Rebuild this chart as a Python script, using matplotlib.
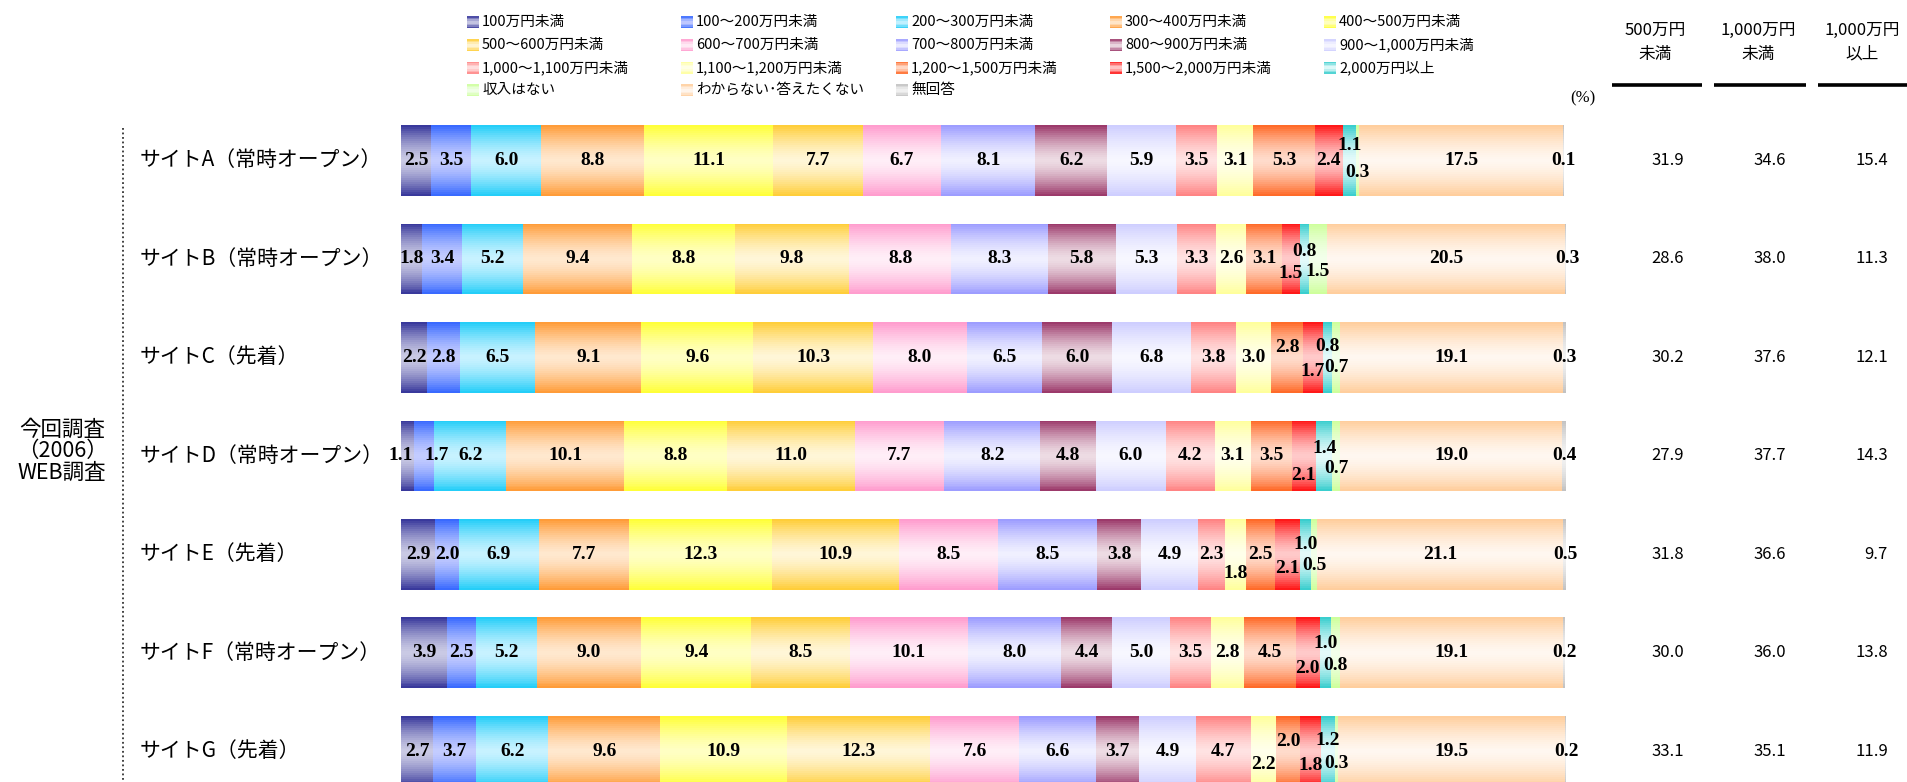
import numpy as np
import matplotlib
matplotlib.use("Agg")
import matplotlib.pyplot as plt
from matplotlib.colors import to_rgb
from matplotlib.patches import Rectangle
from matplotlib.transforms import blended_transform_factory

plt.rcParams['font.family'] = ['Noto Sans CJK JP', 'DejaVu Sans']

# ---------------- data ----------------
categories = ["100万円未満", "100～200万円未満", "200～300万円未満", "300～400万円未満", "400～500万円未満",
              "500～600万円未満", "600～700万円未満", "700～800万円未満", "800～900万円未満", "900～1,000万円未満",
              "1,000～1,100万円未満", "1,100～1,200万円未満", "1,200～1,500万円未満", "1,500～2,000万円未満", "2,000万円以上",
              "収入はない", "わからない･答えたくない", "無回答"]

sites = ["サイトA（常時オープン）", "サイトB（常時オープン）", "サイトC（先着）", "サイトD（常時オープン）",
         "サイトE（先着）", "サイトF（常時オープン）", "サイトG（先着）"]

site_A = [2.5, 3.5, 6.0, 8.8, 11.1, 7.7, 6.7, 8.1, 6.2, 5.9, 3.5, 3.1, 5.3, 2.4, 1.1, 0.3, 17.5, 0.1]
site_B = [1.8, 3.4, 5.2, 9.4, 8.8, 9.8, 8.8, 8.3, 5.8, 5.3, 3.3, 2.6, 3.1, 1.5, 0.8, 1.5, 20.5, 0.3]
site_C = [2.2, 2.8, 6.5, 9.1, 9.6, 10.3, 8.0, 6.5, 6.0, 6.8, 3.8, 3.0, 2.8, 1.7, 0.8, 0.7, 19.1, 0.3]
site_D = [1.1, 1.7, 6.2, 10.1, 8.8, 11.0, 7.7, 8.2, 4.8, 6.0, 4.2, 3.1, 3.5, 2.1, 1.4, 0.7, 19.0, 0.4]
site_E = [2.9, 2.0, 6.9, 7.7, 12.3, 10.9, 8.5, 8.5, 3.8, 4.9, 2.3, 1.8, 2.5, 2.1, 1.0, 0.5, 21.1, 0.5]
site_F = [3.9, 2.5, 5.2, 9.0, 9.4, 8.5, 10.1, 8.0, 4.4, 5.0, 3.5, 2.8, 4.5, 2.0, 1.0, 0.8, 19.1, 0.2]
site_G = [2.7, 3.7, 6.2, 9.6, 10.9, 12.3, 7.6, 6.6, 3.7, 4.9, 4.7, 2.2, 2.0, 1.8, 1.2, 0.3, 19.5, 0.2]

under_500 = [31.9, 28.6, 30.2, 27.9, 31.8, 30.0, 33.1]
under_1000 = [34.6, 38.0, 37.6, 37.7, 36.6, 36.0, 35.1]
over_1000 = [15.4, 11.3, 12.1, 14.3, 9.7, 13.8, 11.9]

summary_headers = [("500万円", "未満"), ("1,000万円", "未満"), ("1,000万円", "以上")]
group_label = ["今回調査", "（2006）", "WEB調査"]
unit_label = "(%)"

# ---------------- styles ----------------
edge_colors = ["#333399", "#3366FF", "#1ECCF8", "#FF9933", "#FFFF33", "#FFCC33", "#FF99CC", "#9999FF",
               "#993366", "#CCCCFF", "#FF8080", "#FFFF99", "#FF6622", "#FF1111", "#33CCCC", "#CCFF99",
               "#FFCC99", "#C0C0C0"]
center_colors = ["#CACAE4", "#C4CCFF", "#C8F2FF", "#FFE8CF", "#FFFFC4", "#FFF6D8", "#FFEEF7", "#F0F0FF",
                 "#EDDCE4", "#F7F7FF", "#FFE2E2", "#FFFFEA", "#FFDCCC", "#FFCACA", "#E4FAFA", "#F2FFEA",
                 "#FFF7F0", "#F2F2F2"]

# label nudges (row index, category index) -> (dx in %, dy in row units, + = down)
label_nudge = {
    (0, 14): (0.0, -0.15), (0, 15): (0.0, 0.12),
    (1, 13): (0.0, 0.15), (1, 14): (0.0, -0.08), (1, 15): (0.0, 0.13),
    (2, 12): (0.0, -0.10), (2, 13): (0.0, 0.14), (2, 14): (0.0, -0.11), (2, 15): (0.0, 0.10),
    (3, 0): (-0.6, 0.0), (3, 1): (1.1, 0.0),
    (3, 13): (0.0, 0.20), (3, 14): (0.0, -0.08), (3, 15): (0.0, 0.13),
    (4, 11): (0.0, 0.19), (4, 13): (0.0, 0.14), (4, 14): (0.0, -0.10), (4, 15): (0.0, 0.11),
    (5, 13): (0.0, 0.16), (5, 14): (0.0, -0.10), (5, 15): (0.0, 0.13),
    (6, 11): (0.0, 0.13), (6, 12): (0.0, -0.10), (6, 13): (0.0, 0.14), (6, 14): (0.0, -0.11), (6, 15): (0.0, 0.12),
}

W, H = 1908, 782
fig = plt.figure(figsize=(W / 100, H / 100), dpi=100)

# overlay axes in pixel coordinates for decorations
ov = fig.add_axes([0, 0, 1, 1], zorder=0)
ov.set_xlim(0, W)
ov.set_ylim(H, 0)
ov.axis('off')

x0_px, x100_px = 401.5, 1566.5
top_px = 111.25
ax = fig.add_axes([x0_px / W, 0, (x100_px - x0_px) / W, (H - top_px) / H], zorder=2)
ax.set_xlim(0, 100)
ax.set_ylim(6.31, -0.5)
ax.axis('off')
ax.patch.set_alpha(0)

data = np.array([site_A, site_B, site_C, site_D, site_E, site_F, site_G])
rows = np.arange(len(sites))
lefts = np.hstack([np.zeros((len(sites), 1)), np.cumsum(data, axis=1)[:, :-1]])

def blend(e, c, t):
    e = np.array(to_rgb(e)); c = np.array(to_rgb(c))
    return tuple(c + (e - c) * t)

bar_h = 0.72
N = 36
for j in range(len(categories)):
    for k in range(N):
        s = (k + 0.5) / N
        t = abs(2 * s - 1) ** 1.5
        col = blend(edge_colors[j], center_colors[j], t)
        ax.barh(rows - bar_h / 2 + (k + 0.5) * bar_h / N, data[:, j], left=lefts[:, j],
                height=bar_h / N * 1.02, color=col, linewidth=0, antialiased=False)

for i in rows:
    for j in range(len(categories)):
        v = data[i, j]
        dx, dy = label_nudge.get((i, j), (0.0, 0.0))
        ax.text(lefts[i, j] + v / 2 + dx, i + dy, f"{v:.1f}",
                ha='center', va='center', fontsize=14, fontweight='bold',
                family='Liberation Serif', color='black', zorder=5)

tr = blended_transform_factory(ov.transData, ax.transData)
for i, name in enumerate(sites):
    ax.text(140, i, name, transform=tr, ha='left', va='center', fontsize=15, color='black')
    for col_x, arr in zip([1684, 1786, 1888], [under_500, under_1000, over_1000]):
        ax.text(col_x, i, f"{arr[i]:.1f}", transform=tr, ha='right', va='center', fontsize=12, color='black')

# group label
for k, line in enumerate(group_label):
    ax.text(62, 3 - 0.05 + (k - 1) * 0.218, line, transform=tr, ha='center', va='center',
            fontsize=15.5, color='black')

# dotted separator
ov.plot([123, 123], [128, H], color='#333333', linestyle=(0, (1, 1.5)), linewidth=1.3)

# summary headers
for (l1, l2), cx, (xa, xb) in zip(summary_headers, [1655, 1758, 1862],
                                   [(1612, 1702), (1714, 1806), (1818, 1908)]):
    ov.text(cx, 30, l1, ha='center', va='center', fontsize=12)
    ov.text(cx, 54, l2, ha='center', va='center', fontsize=12)
    ov.plot([xa, xb], [85, 85], color='black', linewidth=2.6, solid_capstyle='butt')
ov.text(1583, 98, unit_label, ha='center', va='center', fontsize=12, family='Liberation Serif')

# legend (row-major, 5 columns)
leg_x = [467, 681, 896, 1110, 1324]
leg_y = [22, 45, 67.5, 90]
sq = 12
for idx, name in enumerate(categories):
    r, c = divmod(idx, 5)
    lx, ly = leg_x[c], leg_y[r]
    n = 8
    for k in range(n):
        s = (k + 0.5) / n
        t = abs(2 * s - 1) ** 1.5
        ov.add_patch(Rectangle((lx, ly - sq / 2 + k * sq / n), sq, sq / n * 1.05,
                               facecolor=blend(edge_colors[idx], center_colors[idx], t),
                               edgecolor='none', antialiased=False))
    ov.text(lx + sq + 3, ly, name, ha='left', va='center', fontsize=10.5, color='black')

fig.savefig("out.png", dpi=100)
